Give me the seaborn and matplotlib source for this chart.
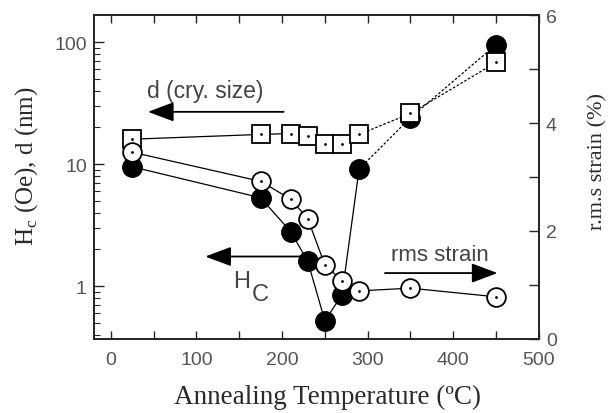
import numpy as np
import pandas as pd
import matplotlib
matplotlib.use("Agg")
import matplotlib.pyplot as plt
from matplotlib.ticker import LogLocator, NullFormatter, FixedLocator, MultipleLocator
import seaborn as sns

# ---- data ----
temp = [25, 175, 210, 230, 250, 270, 290, 350, 450]
hc = [9.5, 5.3, 2.8, 1.6, 0.52, 0.85, 9.1, 24, 95]
d_size = [16, 17.5, 17.8, 17.1, 14.5, 14.5, 17.5, 26, 68]
rms_strain = [3.46, 2.92, 2.59, 2.23, 1.37, 1.08, 0.89, 0.94, 0.78]

sns.set_style("ticks")
plt.rcParams["font.family"] = ["Liberation Sans", "DejaVu Sans"]

fig = plt.figure(figsize=(6.13, 4.14), dpi=100)
ax = fig.add_axes([0.153, 0.179, 0.726, 0.782])
ax2 = ax.twinx()

tick_col = "#555555"
lab_col = "#2a2a2a"
ann_col = "#444444"

df = pd.DataFrame({"T": temp, "hc": hc, "d": d_size, "rms": rms_strain})
solid = df.iloc[:7]
dotted = df.iloc[6:]

ms = 14
# d (crystal size): open squares
sns.lineplot(data=solid, x="T", y="d", ax=ax, color="black", lw=0.9, sort=False, estimator=None)
sns.lineplot(data=dotted, x="T", y="d", ax=ax, color="black", lw=0.9, ls=(0, (2, 1.5)), sort=False, estimator=None)
ax.plot(df["T"], df["d"], ls="none", marker="s", ms=ms - 1, mfc="white", mec="black", mew=1.3, zorder=4)
ax.plot(df["T"], df["d"], ls="none", marker=".", ms=2, color="black", zorder=5)

# Hc: filled circles
sns.lineplot(data=solid, x="T", y="hc", ax=ax, color="black", lw=0.9, sort=False, estimator=None)
sns.lineplot(data=dotted, x="T", y="hc", ax=ax, color="black", lw=0.9, ls=(0, (2, 1.5)), sort=False, estimator=None)
ax.plot(df["T"], df["hc"], ls="none", marker="o", ms=ms, mfc="black", mec="black", zorder=3)

# rms strain: open circles on right axis
sns.lineplot(data=df, x="T", y="rms", ax=ax2, color="black", lw=0.9, sort=False, estimator=None)
ax2.plot(df["T"], df["rms"], ls="none", marker="o", ms=ms - 0.5, mfc="white", mec="black", mew=1.3, zorder=4)
ax2.plot(df["T"], df["rms"], ls="none", marker=".", ms=2, color="black", zorder=5)

# axes limits/scales
ax.set_yscale("log")
ax.set_xlim(-20, 500)
ax.set_ylim(0.37, 166)
ax2.set_ylim(0, 6)

ax.yaxis.set_major_locator(FixedLocator([1, 10, 100]))
ax.set_yticklabels(["1", "10", "100"])
ax.yaxis.set_minor_locator(LogLocator(base=10, subs=np.arange(2, 10)))
ax.yaxis.set_minor_formatter(NullFormatter())

ax.xaxis.set_major_locator(FixedLocator([0, 100, 200, 300, 400, 500]))
ax.xaxis.set_minor_locator(MultipleLocator(50))
ax2.yaxis.set_major_locator(FixedLocator([0, 2, 4, 6]))
ax2.yaxis.set_minor_locator(MultipleLocator(1))

ax.tick_params(axis="x", which="both", direction="in", top=True, bottom=True,
               length=6, width=1, labelsize=14, labelcolor=tick_col, pad=9)
ax.tick_params(axis="y", which="major", direction="in", left=True, right=False,
               length=7, width=1, labelsize=14, labelcolor=tick_col, pad=5)
ax.tick_params(axis="y", which="minor", direction="in", left=True, right=False,
               length=4, width=0.8)
ax2.tick_params(axis="y", which="major", direction="in", right=True, length=7, width=1,
                labelsize=14, labelcolor=tick_col, pad=5)
ax2.tick_params(axis="y", which="minor", direction="in", right=True, length=7, width=1)

for a in (ax, ax2):
    for s in a.spines.values():
        s.set_linewidth(1.2)
        s.set_color("#222222")
        s.set_visible(True)

serif = ["Liberation Serif", "DejaVu Serif"]
ax.set_xlabel("Annealing Temperature (\u00baC)", fontsize=19.5, family=serif, color=lab_col)
ax.xaxis.set_label_coords(0.525, -0.14)
ax.set_ylabel("H$_\\mathregular{c}$ (Oe), d (nm)", fontsize=18, family=serif, color=lab_col)
ax.yaxis.set_label_coords(-0.12, 0.535)
ax2.set_ylabel("r.m.s strain (%)", fontsize=16, family=serif, color=lab_col, rotation=90)
ax2.yaxis.set_label_coords(1.11, 0.55)

# annotations
arrow = dict(arrowstyle="-|>,head_length=1.6,head_width=0.6", color="black", lw=1.3)
ax.text(42, 39.7, "d (cry. size)", fontsize=16.5, color=ann_col, va="center")
ax.annotate("", xy=(40, 26.8), xytext=(205, 26.8), xycoords="data", arrowprops=arrow)
ax.annotate("", xy=(107, 1.75), xytext=(226, 1.75), xycoords="data", arrowprops=arrow)
ax.text(153, 1.1, "H", fontsize=17, color=ann_col, va="center", ha="center")
ax.text(174, 0.87, "C", fontsize=17, color=ann_col, va="center", ha="center")
ax2.text(327, 1.57, "rms strain", fontsize=16, color=ann_col, va="center")
ax2.annotate("", xy=(455, 1.22), xytext=(317, 1.22), xycoords="data", arrowprops=arrow)

fig.savefig("out.png", dpi=100)
